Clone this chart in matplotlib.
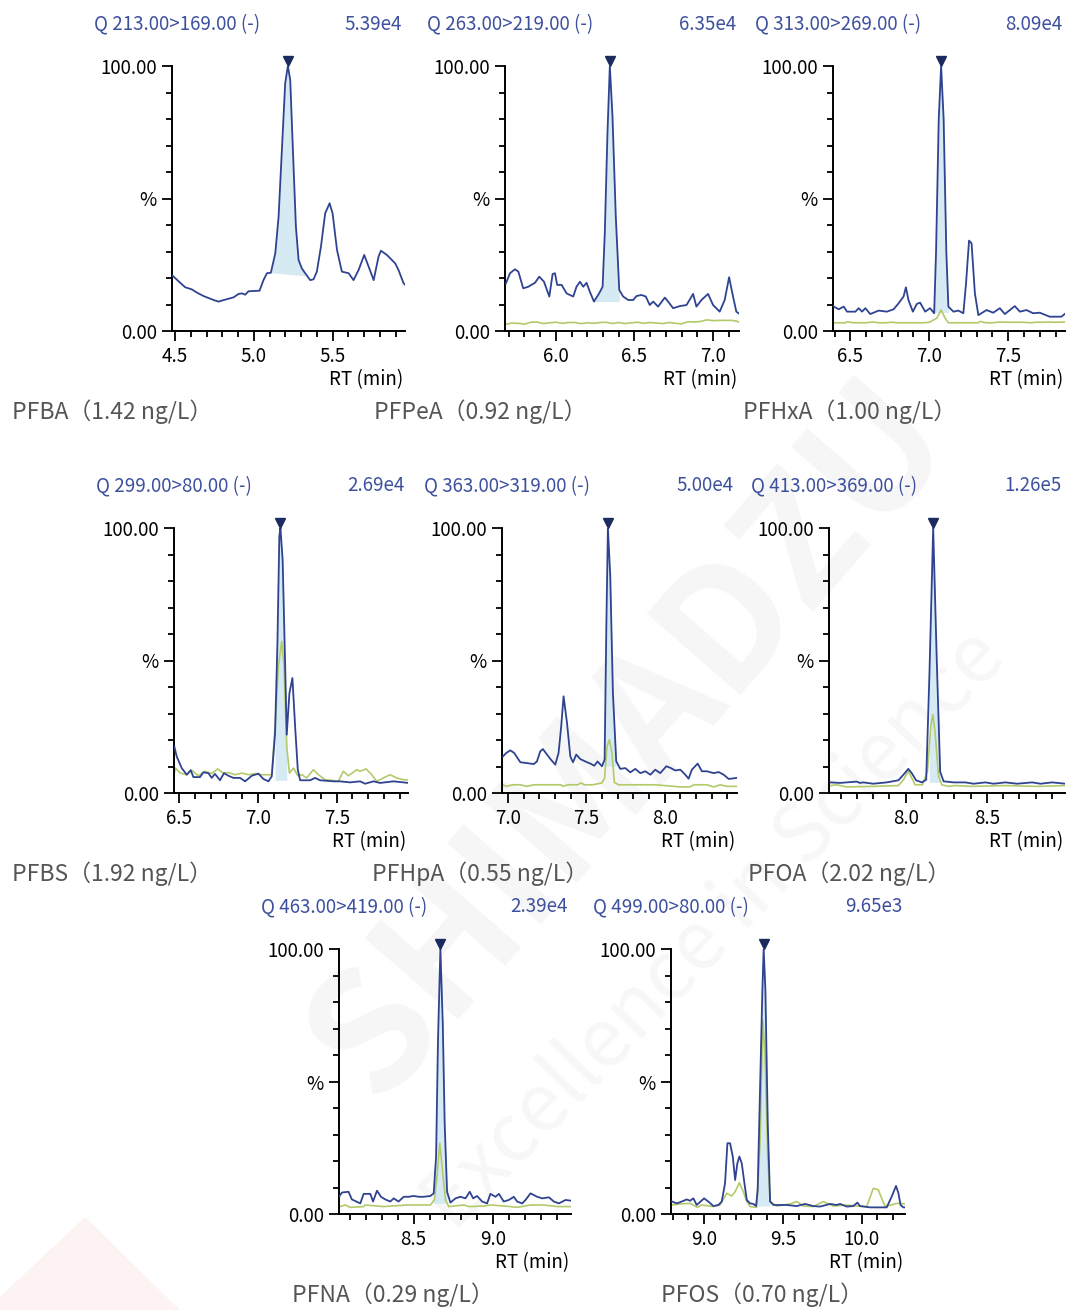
import numpy as np
import matplotlib
matplotlib.use('Agg')
import matplotlib.pyplot as plt
from matplotlib.ticker import MultipleLocator, FormatStrFormatter
from matplotlib.patches import Polygon

# ---- data (RT in min, intensity in %) ----
names = ['PFBA', 'PFPeA', 'PFHxA', 'PFBS', 'PFHpA', 'PFOA', 'PFNA', 'PFOS']
conc = ['1.42', '0.92', '1.00', '1.92', '0.55', '2.02', '0.29', '0.70']
transitions = ['Q 213.00>169.00 (-)', 'Q 263.00>219.00 (-)', 'Q 313.00>269.00 (-)',
               'Q 299.00>80.00 (-)', 'Q 363.00>319.00 (-)', 'Q 413.00>369.00 (-)',
               'Q 463.00>419.00 (-)', 'Q 499.00>80.00 (-)']
max_counts = ['5.39e4', '6.35e4', '8.09e4', '2.69e4', '5.00e4', '1.26e5', '2.39e4', '9.65e3']

# quantifier trace (blue)
pfba_rt = [4.485, 4.532, 4.564, 4.606, 4.638, 4.680, 4.744, 4.775, 4.828, 4.871, 4.903, 4.924, 4.945,
           4.966, 5.036, 5.061, 5.083, 5.108, 5.136, 5.157, 5.178, 5.199, 5.216, 5.231, 5.248, 5.267,
           5.284, 5.305, 5.326, 5.358, 5.379, 5.400, 5.426, 5.453, 5.481, 5.500, 5.528, 5.559, 5.602,
           5.633, 5.665, 5.701, 5.729, 5.761, 5.792, 5.807, 5.845, 5.898, 5.919, 5.951, 5.972]
pfba_q = [20.8, 18.2, 16.5, 15.7, 14.5, 13.2, 11.7, 11.1, 12.0, 12.7, 14.0, 14.2, 13.7,
          15.0, 15.2, 19.2, 21.8, 22.0, 29.3, 43.1, 68.3, 93.5, 100, 94.7, 68.3, 39.4,
          26.8, 23.6, 21.8, 19.2, 19.5, 22.4, 31.8, 44.4, 48.2, 44.4, 30.6, 22.4, 21.8,
          19.2, 23.0, 28.7, 24.3, 19.2, 28.1, 30.3, 28.7, 25.5, 23.0, 18.0, 16.7]

pfpea_rt = [5.682, 5.708, 5.739, 5.761, 5.792, 5.824, 5.867, 5.894, 5.924, 5.958, 5.979, 5.994, 6.008,
            6.036, 6.068, 6.110, 6.131, 6.153, 6.174, 6.195, 6.216, 6.242, 6.275, 6.297, 6.311, 6.328,
            6.343, 6.360, 6.381, 6.403, 6.428, 6.460, 6.492, 6.513, 6.544, 6.572, 6.597, 6.619, 6.650,
            6.693, 6.714, 6.746, 6.788, 6.831, 6.873, 6.894, 6.926, 6.968, 7.000, 7.042, 7.074, 7.102,
            7.127, 7.148, 7.169]
pfpea_q = [18.0, 21.8, 23.3, 22.4, 16.1, 16.7, 18.2, 20.5, 18.6, 13.0, 21.5, 21.8, 17.4,
           17.4, 14.2, 13.0, 16.7, 18.6, 16.7, 18.2, 14.8, 11.1, 14.2, 16.7, 36.9, 74.6,
           100, 80.9, 43.1, 15.5, 13.0, 11.7, 11.7, 13.2, 13.6, 13.0, 9.8, 11.1, 9.2,
           12.6, 11.1, 8.6, 9.4, 9.8, 14.0, 9.2, 11.7, 14.0, 9.8, 7.3, 11.7, 20.3,
           13.0, 7.3, 6.4]

pfhxa_rt = [6.395, 6.426, 6.458, 6.479, 6.532, 6.553, 6.574, 6.595, 6.626, 6.679, 6.732, 6.774, 6.805,
            6.837, 6.852, 6.868, 6.896, 6.921, 6.942, 6.974, 7.005, 7.031, 7.043, 7.060, 7.075, 7.091,
            7.108, 7.121, 7.153, 7.184, 7.216, 7.233, 7.252, 7.268, 7.289, 7.311, 7.363, 7.405, 7.447,
            7.479, 7.542, 7.574, 7.616, 7.658, 7.700, 7.763, 7.837, 7.858]
pfhxa_q = [9.2, 8.2, 9.2, 7.3, 7.3, 8.6, 7.3, 8.6, 6.4, 7.7, 7.3, 8.2, 10.4,
           13.0, 16.5, 11.7, 7.3, 10.2, 10.7, 7.3, 8.6, 6.7, 30.0, 80.0, 100, 80.0,
           30.0, 9.2, 7.3, 7.7, 6.7, 18.0, 34.1, 33.1, 14.2, 6.0, 7.9, 6.9, 8.6,
           6.4, 9.4, 7.3, 7.9, 6.7, 6.9, 5.4, 5.4, 6.4]

pfbs_rt = [6.470, 6.485, 6.517, 6.549, 6.574, 6.591, 6.633, 6.654, 6.686, 6.707, 6.728, 6.760, 6.785,
           6.813, 6.845, 6.887, 6.919, 6.961, 7.003, 7.035, 7.067, 7.088, 7.109, 7.124, 7.136, 7.143,
           7.157, 7.172, 7.183, 7.200, 7.219, 7.236, 7.253, 7.268, 7.331, 7.363, 7.394, 7.479, 7.521,
           7.585, 7.648, 7.680, 7.733, 7.775, 7.859, 7.955]
pfbs_q = [17.6, 13.8, 9.4, 6.9, 8.6, 6.0, 6.0, 7.8, 7.5, 5.7, 7.2, 4.8, 7.5,
          6.5, 5.7, 5.7, 4.4, 6.5, 7.3, 5.3, 4.4, 6.3, 22.6, 56.6, 96.9, 100,
          88.0, 50.3, 22.0, 37.7, 43.4, 25.2, 8.8, 4.8, 4.8, 5.7, 4.8, 4.4, 4.4,
          4.0, 4.4, 3.5, 4.4, 3.8, 4.4, 3.8]

pfhpa_rt = [6.968, 6.989, 7.015, 7.040, 7.079, 7.121, 7.164, 7.185, 7.206, 7.223, 7.249, 7.274, 7.302,
            7.323, 7.340, 7.355, 7.377, 7.398, 7.415, 7.436, 7.462, 7.494, 7.526, 7.551, 7.572, 7.600,
            7.617, 7.628, 7.638, 7.653, 7.670, 7.691, 7.717, 7.749, 7.781, 7.813, 7.845, 7.877, 7.909,
            7.940, 7.972, 8.011, 8.040, 8.068, 8.100, 8.132, 8.153, 8.174, 8.211, 8.238, 8.270, 8.313,
            8.345, 8.377, 8.409, 8.462]
pfhpa_q = [13.8, 15.1, 16.1, 15.1, 11.6, 11.3, 10.9, 11.9, 15.7, 16.6, 14.5, 12.6, 10.7,
           15.1, 25.2, 36.5, 26.4, 13.8, 11.6, 14.5, 12.8, 11.9, 11.1, 10.3, 11.9, 10.1,
           12.6, 62.9, 100, 81.8, 37.7, 12.0, 9.1, 9.4, 7.8, 9.1, 7.5, 8.2, 6.9,
           8.8, 7.5, 10.1, 9.4, 8.5, 8.8, 6.9, 5.4, 8.8, 11.1, 8.2, 8.2, 7.5,
           7.9, 6.9, 5.3, 5.7]

pfoa_rt = [7.537, 7.595, 7.698, 7.718, 7.739, 7.800, 7.883, 7.955, 7.986, 8.016, 8.037, 8.064, 8.099,
           8.126, 8.146, 8.169, 8.191, 8.212, 8.233, 8.294, 8.366, 8.418, 8.490, 8.541, 8.613, 8.685,
           8.778, 8.829, 8.901, 8.984]
pfoa_q = [4.0, 3.8, 4.3, 3.8, 4.0, 3.5, 4.0, 4.8, 6.9, 9.1, 7.5, 4.8, 4.0,
          5.0, 45.0, 100, 50.0, 8.0, 4.4, 4.0, 4.0, 3.5, 4.0, 3.5, 4.0, 3.5,
          4.0, 3.5, 4.0, 3.5]

pfna_rt = [8.034, 8.048, 8.090, 8.111, 8.139, 8.164, 8.185, 8.227, 8.244, 8.269, 8.294, 8.321, 8.353,
           8.374, 8.405, 8.437, 8.468, 8.500, 8.532, 8.563, 8.605, 8.626, 8.641, 8.653, 8.668, 8.683,
           8.695, 8.710, 8.731, 8.763, 8.794, 8.826, 8.853, 8.874, 8.899, 8.931, 8.962, 8.983, 9.015,
           9.036, 9.067, 9.099, 9.130, 9.151, 9.183, 9.204, 9.235, 9.277, 9.309, 9.351, 9.382, 9.414,
           9.456, 9.492]
pfna_q = [6.8, 8.1, 8.4, 5.5, 4.7, 4.0, 7.6, 7.6, 4.7, 8.8, 6.5, 5.5, 4.7,
          5.9, 4.7, 6.5, 6.5, 6.8, 6.5, 6.5, 6.8, 7.8, 21.7, 65.7, 100, 72.0,
          34.3, 8.4, 4.3, 5.9, 6.5, 5.9, 8.4, 5.9, 6.8, 4.7, 4.0, 7.6, 6.5,
          7.6, 4.7, 5.3, 6.5, 4.7, 4.0, 5.3, 7.8, 6.5, 5.9, 6.3, 4.7, 4.0,
          5.3, 5.0]

pfos_rt = [8.797, 8.827, 8.858, 8.890, 8.911, 8.932, 8.953, 9.000, 9.027, 9.059, 9.091, 9.112, 9.133,
           9.148, 9.165, 9.182, 9.197, 9.211, 9.224, 9.239, 9.256, 9.271, 9.292, 9.313, 9.330, 9.340,
           9.355, 9.370, 9.378, 9.389, 9.404, 9.419, 9.440, 9.482, 9.524, 9.588, 9.641, 9.693, 9.736,
           9.799, 9.841, 9.863, 9.905, 9.947, 9.973, 9.989, 10.053, 10.116, 10.159, 10.190, 10.218,
           10.233, 10.247, 10.264, 10.285]
pfos_q = [4.7, 4.0, 4.7, 5.5, 5.0, 5.9, 3.4, 5.9, 4.7, 3.0, 3.4, 4.7, 11.6,
          26.7, 26.7, 21.7, 12.8, 19.1, 21.7, 19.1, 11.6, 5.3, 4.0, 3.8, 3.0, 9.1,
          46.9, 84.6, 100, 84.6, 34.3, 4.7, 3.4, 3.4, 3.4, 3.0, 3.8, 3.0, 2.8,
          3.8, 3.4, 3.8, 2.8, 3.0, 4.3, 3.0, 2.5, 2.5, 2.5, 6.5, 10.6,
          7.9, 3.4, 2.5, 2.5]

# qualifier trace (green), PFBA has none
pfpea_ref_rt = [5.682, 5.72, 5.76, 5.80, 5.84, 5.88, 5.92, 5.96, 6.00, 6.04, 6.08, 6.12, 6.16, 6.20,
                6.24, 6.28, 6.32, 6.36, 6.40, 6.44, 6.48, 6.52, 6.56, 6.60, 6.64, 6.68, 6.72, 6.76,
                6.80, 6.84, 6.88, 6.92, 6.96, 7.00, 7.04, 7.08, 7.12, 7.15, 7.169]
pfpea_ref = [2.6, 3.0, 2.9, 2.6, 3.3, 3.4, 2.8, 3.1, 3.3, 2.9, 3.2, 3.2, 2.8, 3.1,
             2.9, 3.2, 3.3, 2.8, 3.2, 2.8, 3.1, 3.3, 2.9, 3.2, 3.0, 2.8, 3.2, 2.9,
             2.7, 3.5, 3.4, 3.6, 4.2, 3.9, 4.0, 4.0, 4.0, 3.7, 3.3]

pfhxa_ref_rt = [6.395, 6.43, 6.47, 6.48, 6.52, 6.56, 6.60, 6.64, 6.68, 6.72, 6.76, 6.80, 6.84, 6.88,
                6.92, 6.96, 7.00, 7.047, 7.075, 7.101, 7.121, 7.16, 7.20, 7.24, 7.28, 7.31, 7.32,
                7.36, 7.40, 7.447, 7.50, 7.54, 7.60, 7.64, 7.68, 7.72, 7.76, 7.80, 7.858]
pfhxa_ref = [3.1, 3.1, 3.1, 3.5, 3.1, 3.1, 3.1, 3.4, 3.1, 3.1, 3.3, 3.1, 3.1, 3.1,
             3.1, 3.1, 3.3, 4.8, 7.9, 4.8, 3.1, 3.1, 3.1, 3.1, 3.1, 3.1, 3.6,
             3.1, 3.1, 3.4, 3.3, 3.3, 3.3, 3.1, 3.3, 3.3, 3.4, 3.3, 3.4]

pfbs_ref_rt = [6.470, 6.476, 6.508, 6.549, 6.580, 6.622, 6.664, 6.707, 6.745, 6.781, 6.813, 6.855,
               6.898, 6.940, 6.982, 7.024, 7.088, 7.109, 7.130, 7.151, 7.166, 7.183, 7.200, 7.226,
               7.253, 7.278, 7.310, 7.352, 7.384, 7.426, 7.468, 7.510, 7.542, 7.574, 7.627, 7.648,
               7.686, 7.722, 7.754, 7.796, 7.838, 7.880, 7.923, 7.955]
pfbs_ref = [7.5, 9.4, 7.5, 6.9, 8.6, 6.5, 8.2, 7.3, 9.1, 7.5, 7.7, 6.9,
            7.5, 6.9, 7.3, 6.9, 6.9, 25.2, 47.8, 57.2, 47.8, 17.6, 7.5, 9.4,
            6.5, 6.9, 5.7, 8.8, 6.9, 5.0, 4.8, 4.4, 8.2, 6.5, 8.8, 8.2,
            9.1, 6.9, 4.4, 5.7, 6.9, 5.7, 5.0, 5.0]

pfhpa_ref_rt = [6.968, 6.989, 7.030, 7.079, 7.121, 7.164, 7.250, 7.340, 7.351, 7.383, 7.445, 7.466,
                7.487, 7.540, 7.600, 7.617, 7.632, 7.647, 7.664, 7.679, 7.706, 7.800, 7.940, 8.100,
                8.160, 8.187, 8.230, 8.270, 8.313, 8.355, 8.398, 8.462]
pfhpa_ref = [3.1, 2.5, 3.1, 3.1, 2.5, 3.1, 3.1, 3.1, 2.5, 3.1, 3.1, 3.8,
             3.1, 3.1, 3.8, 5.7, 17.6, 20.1, 15.1, 4.0, 3.1, 3.1, 3.1, 2.3,
             2.3, 3.1, 3.1, 3.1, 2.3, 3.1, 2.5, 2.5]

pfoa_ref_rt = [7.537, 7.574, 7.636, 7.800, 7.955, 7.986, 8.016, 8.037, 8.058, 8.103, 8.134, 8.154,
               8.167, 8.181, 8.202, 8.222, 8.263, 8.304, 8.407, 8.613, 8.819, 8.984]
pfoa_ref = [2.8, 3.1, 2.3, 2.5, 2.8, 5.0, 8.2, 5.7, 3.1, 3.1, 8.2, 25.2,
            29.6, 22.6, 6.3, 3.1, 2.5, 2.8, 2.5, 2.8, 2.5, 2.8]

pfna_ref_rt = [8.034, 8.071, 8.101, 8.185, 8.195, 8.311, 8.458, 8.521, 8.605, 8.630, 8.647, 8.664,
               8.681, 8.700, 8.721, 8.815, 8.847, 8.941, 8.983, 9.109, 9.151, 9.235, 9.319, 9.403,
               9.492]
pfna_ref = [2.8, 3.4, 2.5, 2.8, 3.4, 2.8, 3.4, 3.4, 3.4, 5.3, 14.1, 26.7,
            16.6, 5.3, 2.8, 3.4, 2.8, 3.0, 3.4, 2.8, 2.5, 3.4, 3.4, 2.8,
            2.8]

pfos_ref_rt = [8.797, 8.848, 8.911, 8.957, 8.985, 9.059, 9.101, 9.144, 9.175, 9.197, 9.224, 9.249,
               9.271, 9.292, 9.334, 9.355, 9.372, 9.387, 9.404, 9.419, 9.461, 9.545, 9.588, 9.630,
               9.693, 9.757, 9.820, 9.905, 9.968, 10.032, 10.074, 10.106, 10.127, 10.148, 10.190,
               10.222, 10.285]
pfos_ref = [3.4, 3.8, 4.0, 2.5, 3.4, 2.8, 3.4, 7.8, 6.8, 8.4, 11.8, 8.4,
            4.7, 2.8, 2.5, 26.7, 73.3, 59.4, 21.7, 4.7, 3.0, 3.8, 4.7, 3.0,
            2.8, 4.7, 3.0, 3.4, 3.0, 2.8, 9.7, 9.1, 5.9, 3.0, 3.4,
            4.0, 3.8]

# integrated peak: start RT, end RT, baseline level at start / end
peak_windows = [(5.108, 5.330, 22.0, 20.8), (6.242, 6.420, 11.1, 11.1), (7.031, 7.121, 7.0, 7.0),
                (7.092, 7.186, 4.8, 4.8), (7.600, 7.691, 10.1, 10.1), (8.128, 8.222, 4.0, 4.0),
                (8.620, 8.720, 4.0, 4.0), (9.334, 9.421, 3.0, 3.0)]
x_ranges = [(4.48, 5.96), (5.676, 7.165), (6.39, 7.86), (6.468, 7.952),
            (6.962, 8.462), (7.528, 8.98), (8.03, 9.49), (8.79, 10.275)]

quan = [(pfba_rt, pfba_q), (pfpea_rt, pfpea_q), (pfhxa_rt, pfhxa_q), (pfbs_rt, pfbs_q),
        (pfhpa_rt, pfhpa_q), (pfoa_rt, pfoa_q), (pfna_rt, pfna_q), (pfos_rt, pfos_q)]
qual = [None, (pfpea_ref_rt, pfpea_ref), (pfhxa_ref_rt, pfhxa_ref), (pfbs_ref_rt, pfbs_ref),
        (pfhpa_ref_rt, pfhpa_ref), (pfoa_ref_rt, pfoa_ref), (pfna_ref_rt, pfna_ref),
        (pfos_ref_rt, pfos_ref)]

# ---- layout in pixels: axes left, right, top, bottom and the compound label x ----
boxes = [(172, 405, 66, 331), (505, 739, 66, 331), (833, 1065, 66, 331),
         (174, 408, 528, 793), (502, 737, 528, 793), (829, 1065, 528, 793),
         (339, 571, 949, 1214), (671, 905, 949, 1214)]
label_x = [12, 374, 743, 12, 372, 748, 292, 661]

BLUE = '#2f4391'
GREEN = '#b3ca6a'
FILL = '#d6eaf4'
MARK = '#1c2b5e'
TXT_BLUE = '#3d509e'
FS = 13.5

plt.rcParams['font.family'] = ['Noto Sans CJK SC', 'DejaVu Sans']

W, H = 1066, 1310
fig = plt.figure(figsize=(W / 100, H / 100), dpi=100)


def fx(p):
    return p / W


def fy(p):
    return 1 - p / H


# faint watermark in the background
fig.patches.append(Polygon([(fx(0), fy(1297)), (fx(85), fy(1217)), (fx(180), fy(1310)), (fx(0), fy(1310))],
                           closed=True, transform=fig.transFigure, facecolor='#fdf3f3', edgecolor='none',
                           zorder=-5))
fig.text(fx(630), fy(740), 'SHIMADZU', rotation=49, fontsize=120, fontweight='bold', color='#f6f6f6',
         ha='center', va='center', zorder=-5, rotation_mode='anchor')
fig.text(fx(715), fy(930), 'Excellence in Science', rotation=46, fontsize=58, color='#f7f7f7',
         ha='center', va='center', zorder=-5, rotation_mode='anchor')

for i in range(8):
    l, r, t, b = boxes[i]
    ax = fig.add_axes([fx(l), fy(b), (r - l) / W, (b - t) / H])
    ax.set_facecolor('none')

    rt = np.array(quan[i][0])
    q = np.array(quan[i][1])
    # shaded integrated area
    s, e, b0, b1 = peak_windows[i]
    m = (rt >= s) & (rt <= e)
    base = b0 + (b1 - b0) * (rt[m] - s) / (e - s)
    ax.fill_between(rt[m], q[m], base, color=FILL, lw=0, zorder=1)

    if qual[i] is not None:
        ax.plot(qual[i][0], qual[i][1], color=GREEN, lw=1.2, zorder=2)
    ax.plot(rt, q, color=BLUE, lw=1.3, zorder=3)

    # peak top marker
    ax.plot(rt[np.argmax(q)], 101.7, marker='v', color=MARK, ms=7.5, clip_on=False, zorder=4)

    ax.set_xlim(x_ranges[i])
    ax.set_ylim(0, 100)
    ax.spines['top'].set_visible(False)
    ax.spines['right'].set_visible(False)
    ax.spines['left'].set_linewidth(1.4)
    ax.spines['bottom'].set_linewidth(1.4)

    ax.xaxis.set_major_locator(MultipleLocator(0.5))
    ax.xaxis.set_minor_locator(MultipleLocator(0.1))
    ax.xaxis.set_major_formatter(FormatStrFormatter('%.1f'))
    ax.set_yticks([0, 50, 100])
    ax.set_yticklabels(['0.00', '%', '100.00'])
    ax.yaxis.set_minor_locator(MultipleLocator(10))
    ax.tick_params(which='major', length=7, width=1.3, labelsize=FS, pad=4)
    ax.tick_params(which='minor', length=4, width=1.3)

    fig.text(fx(r - 2), fy(b + 49), 'RT (min)', ha='right', va='center', fontsize=FS)
    fig.text(fx(l - 78), fy(t - 42), transitions[i], ha='left', va='center', fontsize=FS, color=TXT_BLUE)
    fig.text(fx(r - 3), fy(t - 42), max_counts[i], ha='right', va='center', fontsize=FS, color=TXT_BLUE)
    fig.text(fx(label_x[i]), fy(b + 81), names[i] + '（' + conc[i] + ' ng/L）', ha='left', va='center',
             fontsize=16.5, color='#555555')

fig.savefig('out.png', dpi=100)
